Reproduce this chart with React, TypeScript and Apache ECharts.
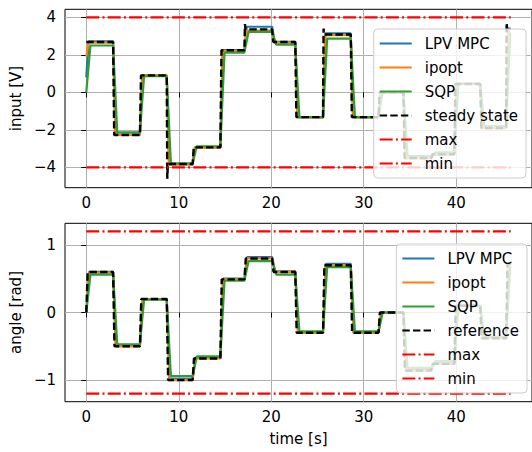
import React, { useEffect, useRef } from "react";
import * as echarts from "echarts";

// switch times of the reference profile [s]
const stepTimes = [0, 2.9, 5.8, 8.7, 11.5, 14.5, 17.1, 20.1, 22.6, 25.6, 28.6, 31.6, 34.3, 37.3, 39.8, 42.6, 45.4];
const endTime = 45.9;

// angle [rad] levels per segment
const angleRef = [0.6, -0.5, 0.2, -1.0, -0.68, 0.49, 0.8, 0.6, -0.3, 0.7, -0.3, 0.0, -0.86, -0.76, 0.1, -0.38, 0.72];
const angleLPV = [0.6, -0.49, 0.2, -0.98, -0.67, 0.5, 0.82, 0.61, -0.3, 0.72, -0.3, 0.0, -0.85, -0.75, 0.1, -0.37, 0.72];
const angleIpopt = [0.59, -0.5, 0.2, -1.0, -0.68, 0.49, 0.8, 0.6, -0.3, 0.7, -0.3, 0.0, -0.86, -0.76, 0.1, -0.38, 0.7];
const angleSQP = [0.56, -0.47, 0.19, -0.94, -0.65, 0.47, 0.76, 0.56, -0.28, 0.67, -0.28, 0.0, -0.82, -0.72, 0.1, -0.36, 0.68];

// input [V] levels per segment
const inputSS = [2.69, -2.27, 0.91, -3.82, -2.93, 2.25, 3.36, 2.69, -1.32, 3.09, -1.32, 0.0, -3.5, -3.3, 0.45, -1.9, 3.3];
const inputSSSpike = [null, null, null, -4.6, null, null, 3.64, null, null, 3.4, null, null, null, null, null, null, 3.7];
const inputLPV = [2.72, -2.25, 0.91, -3.82, -2.93, 2.25, 3.5, 2.7, -1.32, 3.15, -1.32, 0.0, -3.5, -3.3, 0.45, -1.9, 3.4];
const inputIpopt = [2.65, -2.27, 0.91, -3.85, -2.95, 2.22, 3.3, 2.65, -1.33, 3.05, -1.33, 0.0, -3.5, -3.3, 0.45, -1.9, 3.3];
const inputSQP = [2.5, -2.13, 0.86, -3.78, -2.87, 2.12, 3.23, 2.55, -1.32, 2.87, -1.32, 0.0, -3.4, -3.2, 0.45, -1.8, 3.2];
const inputStart = { lpv: 0.8, ipopt: 1.9, sqp: 0.0, ss: 2.69 };

const inputMax = 4;
const inputMin = -4;
const angleMax = 1.2;
const angleMin = -1.2;

const xTicks = [0, 10, 20, 30, 40];
const inputTicks = [-4, -2, 0, 2, 4];
const angleTicks = [-1, 0, 1];

const C_BLUE = "#1f77b4";
const C_ORANGE = "#ff7f0e";
const C_GREEN = "#2ca02c";
const FONT = "DejaVu Sans";
const FS = 15;

function trace(levels: number[], start: number, rise: number, spikes?: (number | null)[]) {
  const pts: number[][] = [[stepTimes[0], start]];
  for (let i = 0; i < levels.length; i++) {
    const t = stepTimes[i];
    if (i > 0) pts.push([t, levels[i - 1]]);
    const sp = spikes ? spikes[i] : null;
    if (sp !== null && sp !== undefined) pts.push([t + rise * 0.5, sp]);
    pts.push([t + rise, levels[i]]);
  }
  pts.push([endTime, levels[levels.length - 1]]);
  return pts;
}

const minus = (v: number) => String(v).replace("-", "\u2212");

export default function App() {
  const ref = useRef<HTMLDivElement>(null);
  useEffect(() => {
    if (!ref.current) return;
    const chart = echarts.init(ref.current, undefined, { renderer: "svg" });
    const lw = 2.2;
    const mk = (name: string, grid: number, data: number[][], color: string, type: any = "solid", width = lw) => ({
      type: "line",
      name,
      xAxisIndex: grid,
      yAxisIndex: grid,
      data,
      symbol: "none",
      showSymbol: false,
      lineStyle: { color, width, type },
      itemStyle: { color },
      silent: true,
    });
    const dashDot = [13, 3.2, 2, 3.2];
    const xAxis = (gi: number) => ({
      type: "value",
      gridIndex: gi,
      min: -2.3,
      max: 48.2,
      axisLine: { show: false },
      axisTick: { show: true, length: 5, lineStyle: { color: "#000", width: 1 }, customValues: xTicks },
      axisLabel: { customValues: xTicks, color: "#000", fontSize: FS, fontFamily: FONT, margin: 8, formatter: minus },
      splitLine: { show: true, lineStyle: { color: "#b0b0b0", width: 1 } },
      ...(gi === 1
        ? { name: "time [s]", nameLocation: "middle", nameGap: 30, nameTextStyle: { color: "#000", fontSize: FS, fontFamily: FONT } }
        : {}),
    });
    const yAxis = (gi: number, min: number, max: number, ticks: number[], name: string) => ({
      type: "value",
      gridIndex: gi,
      min,
      max,
      axisLine: { show: false },
      axisTick: { show: true, length: 5, lineStyle: { color: "#000", width: 1 }, customValues: ticks },
      axisLabel: { customValues: ticks, color: "#000", fontSize: FS, fontFamily: FONT, margin: 9, formatter: minus },
      splitLine: { show: true, lineStyle: { color: "#b0b0b0", width: 1 } },
      name,
      nameLocation: "middle",
      nameGap: 40,
      nameTextStyle: { color: "#000", fontSize: FS, fontFamily: FONT },
    });
    const legendBase = {
      orient: "vertical",
      right: 6,
      itemWidth: 32,
      itemHeight: 14,
      itemGap: 9,
      padding: [7, 8, 7, 5],
      backgroundColor: "rgba(255,255,255,0.8)",
      borderColor: "#cccccc",
      borderWidth: 1,
      borderRadius: 4,
      itemStyle: { opacity: 0, borderWidth: 0 },
      textStyle: { color: "#000", fontSize: FS, fontFamily: FONT, lineHeight: 14, padding: [0, 0, 0, 8] },
      z: 10,
    };
    chart.setOption({
      animation: false,
      backgroundColor: "#fff",
      grid: [
        { left: 65, top: 9.3, width: 469, height: 178.4, show: true, borderColor: "#000", borderWidth: 1, backgroundColor: "transparent" },
        { left: 65, top: 223.3, width: 469, height: 178.4, show: true, borderColor: "#000", borderWidth: 1, backgroundColor: "transparent" },
      ],
      xAxis: [xAxis(0), xAxis(1)],
      yAxis: [
        yAxis(0, -5.08, 4.43, inputTicks, "input [V]"),
        yAxis(1, -1.32, 1.32, angleTicks, "angle [rad]"),
      ],
      legend: [
        { ...legendBase, bottom: 452 - 178, data: ["LPV MPC", "ipopt", "SQP", "steady state", "max", "min"] },
        { ...legendBase, bottom: 452 - 393, right: 5, data: ["LPV MPC", "ipopt", "SQP", "reference", "max", "min"] },
      ],
      series: [
        mk("LPV MPC", 0, trace(inputLPV, inputStart.lpv, 0.25), C_BLUE),
        mk("ipopt", 0, trace(inputIpopt, inputStart.ipopt, 0.25), C_ORANGE),
        mk("SQP", 0, trace(inputSQP, inputStart.sqp, 0.45), C_GREEN),
        mk("steady state", 0, trace(inputSS, inputStart.ss, 0.12, inputSSSpike), "#000", [7.4, 3.2], 2.4),
        mk("max", 0, [[0, inputMax], [endTime, inputMax]], "#ff0000", dashDot),
        mk("min", 0, [[0, inputMin], [endTime, inputMin]], "#ff0000", dashDot),
        mk("LPV MPC", 1, trace(angleLPV, 0, 0.3), C_BLUE),
        mk("ipopt", 1, trace(angleIpopt, 0, 0.3), C_ORANGE),
        mk("SQP", 1, trace(angleSQP, 0, 0.45), C_GREEN),
        mk("reference", 1, trace(angleRef, 0, 0.15), "#000", [7.4, 3.2], 2.4),
        mk("max", 1, [[0, angleMax], [endTime, angleMax]], "#ff0000", dashDot),
        mk("min", 1, [[0, angleMin], [endTime, angleMin]], "#ff0000", dashDot),
      ],
    });
    return () => chart.dispose();
  }, []);
  return <div ref={ref} style={{ position: "fixed", left: 0, top: 0, width: 532, height: 452 }} />;
}
